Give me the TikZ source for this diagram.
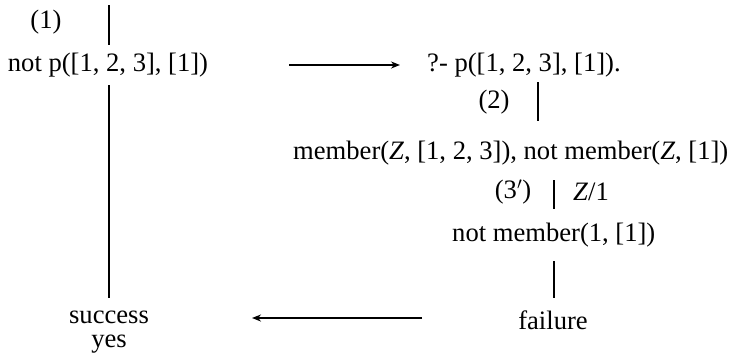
\documentclass[tikz,border=0pt]{standalone}
\usepackage{fontspec}
\setmainfont{Liberation Serif}
\usetikzlibrary{arrows.meta}
\tikzset{
  txt/.style={inner sep=0pt, font=\fontsize{26.6}{30}\selectfont},
  bar/.style={line width=2.8pt},
  arr/.style={line width=1.8pt, -{Stealth[length=9pt,width=7pt]}}
}
\begin{document}
\begin{tikzpicture}[x=1pt,y=-1pt]
\useasboundingbox (0,0) rectangle (735,354);
% left column
\node[txt] (l1) at (46,22) {(1)};
\coordinate (b1t) at (109,5);
\coordinate (b1b) at (109,45);
\draw[bar] (b1t) -- (b1b);
\node[txt] (np) at (108,65) {not p([1, 2, 3], [1])};
\coordinate (b2t) at (109,85);
\coordinate (b2b) at (109,298);
\draw[bar] (b2t) -- (b2b);
\node[txt] (succ) at (109,317) {success};
\node[txt] (yes) at (109,344) {yes};
% right column
\node[txt, anchor=west] (q) at (427,65) {?- p([1, 2, 3], [1]).};
\node[txt] (l2) at (494,102) {(2)};
\coordinate (b3t) at (538,82);
\coordinate (b3b) at (538,121);
\draw[bar] (b3t) -- (b3b);
\node[txt, anchor=west] (mem) at (293,153) {member(\textit{Z}, [1, 2, 3]), not member(\textit{Z}, [1])};
\node[txt] (l3) at (513,192) {(3$'$)};
\coordinate (b4t) at (554,180);
\coordinate (b4b) at (554,209);
\draw[bar] (b4t) -- (b4b);
\node[txt, anchor=west] (sub) at (573,192) {\textit{Z}/1};
\node[txt, anchor=west] (nm) at (452,235) {not member(1, [1])};
\coordinate (b5t) at (554,261);
\coordinate (b5b) at (554,298);
\draw[bar] (b5t) -- (b5b);
\node[txt] (fail) at (553,320) {failure};
% arrows
\coordinate (a1s) at (289,65);
\coordinate (a1e) at (400,65);
\draw[arr] (a1s) -- (a1e);
\coordinate (a2s) at (422,318);
\coordinate (a2e) at (252,318);
\draw[arr] (a2s) -- (a2e);
\end{tikzpicture}
\end{document}
